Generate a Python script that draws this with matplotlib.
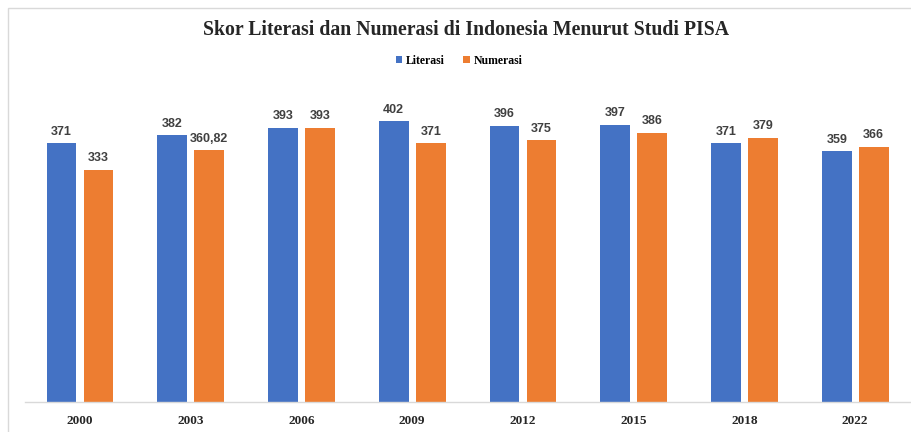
import matplotlib
matplotlib.use("Agg")
import matplotlib.pyplot as plt
from matplotlib.patches import Rectangle
import numpy as np

years = ["2000", "2003", "2006", "2009", "2012", "2015", "2018", "2022"]
literasi = [371, 382, 393, 402, 396, 397, 371, 359]
numerasi = [333, 360.82, 393, 371, 375, 386, 379, 366]
series_names = ["Literasi", "Numerasi"]
colors = ["#4472C4", "#ED7D31"]

def fmt(v):
    if float(v).is_integer():
        return str(int(v))
    return f"{v:.2f}".replace(".", ",")

fig = plt.figure(figsize=(9.12, 4.32), dpi=100)
fig.patch.set_facecolor("white")

# chart frame
fig.add_artist(Rectangle((8/912, -0.05), 1.2, (432-8)/432 + 0.05,
                         transform=fig.transFigure, fill=False,
                         edgecolor="#d9d9d9", linewidth=1.0))

ax = fig.add_axes([24.6/912, 30/432, 886/912, 314/432])
x = np.arange(len(years))
w = 0.27
off = 0.167
b1 = ax.bar(x - off, literasi, w, color=colors[0], label=series_names[0])
b2 = ax.bar(x + off, numerasi, w, color=colors[1], label=series_names[1])

for bars, vals in ((b1, literasi), (b2, numerasi)):
    for rect, v in zip(bars, vals):
        ax.annotate(fmt(v), (rect.get_x() + rect.get_width()/2, rect.get_height()),
                    xytext=(0, 4), textcoords="offset points", ha="center", va="bottom",
                    fontsize=9, fontweight="bold", color="#404040",
                    family="Liberation Sans")

ax.set_xlim(-0.5, len(years) - 0.5)
ax.set_ylim(0, 450)
ax.set_xticks(x)
ax.set_xticklabels(years, family="Liberation Serif", fontweight="bold",
                   fontsize=9.5, color="#262626")
ax.tick_params(axis="x", length=0, pad=9)
ax.set_yticks([])
for s in ["top", "right", "left"]:
    ax.spines[s].set_visible(False)
ax.spines["bottom"].set_color("#d9d9d9")
ax.spines["bottom"].set_linewidth(1.0)

fig.text(466/912, 1 - 30/432, "Skor Literasi dan Numerasi di Indonesia Menurut Studi PISA",
         ha="center", va="center", fontsize=14.2, fontweight="bold",
         family="Liberation Serif", color="#262626")

fig.legend(handles=[b1, b2], labels=series_names, loc="center",
           bbox_to_anchor=(459/912, 1 - 61/432), ncol=2, frameon=False,
           prop={"family": "Liberation Serif", "weight": "bold", "size": 8.5},
           handlelength=0.55, handleheight=0.55, handletextpad=0.3, columnspacing=1.6)

fig.savefig("out.png", dpi=100, facecolor="white")
